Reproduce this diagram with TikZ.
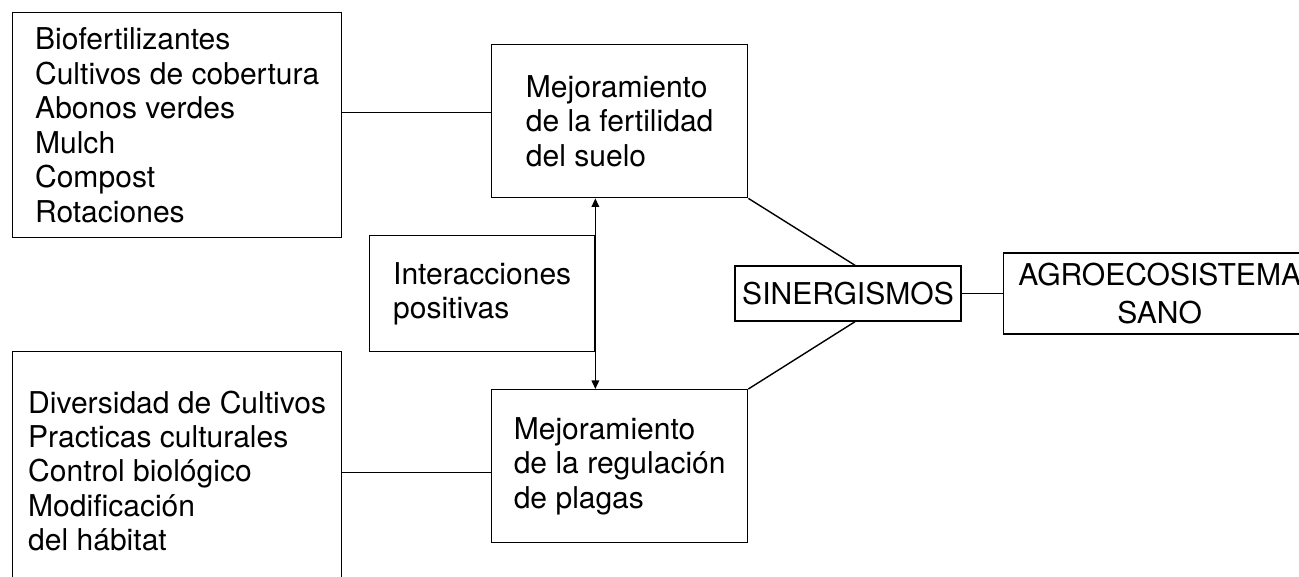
\documentclass[tikz,border=0pt]{standalone}
\usepackage{fontspec}
\setmainfont{TeX Gyre Heros}
\usetikzlibrary{arrows.meta}
\begin{document}
\begin{tikzpicture}[
        x=0.02cm, y=-0.02cm,
        every node/.style={font=\fontsize{17.1}{19.6}\selectfont, inner sep=0pt},
        box/.style={draw, thick, align=left},
        listbox/.style={box, anchor=north west, minimum width=6.58cm},
        link/.style={thick},
        tip/.style={arrows={Triangle[length=0.17cm,width=0.15cm]-Triangle[length=0.17cm,width=0.15cm]}}
    ]
        \useasboundingbox (0,0) rectangle (1299,577);
        \clip (0,0) rectangle (1299,577);

        % Practices on the left
        \node[listbox, minimum height=4.5cm] (suelo) at (12,12)
            {Biofertilizantes\\Cultivos de cobertura\\Abonos verdes\\Mulch\\Compost\\Rotaciones};
        \node[listbox, minimum height=4.77cm] (habitat) at (12,351)
            {Diversidad de Cultivos\\Practicas culturales\\Control biológico\\Modificación\\del hábitat};

        % Central boxes
        \node[box, anchor=north west, minimum width=5.12cm, minimum height=3.06cm] (fertilidad) at (491,44)
            {Mejoramiento\\de la fertilidad\\del suelo};
        \node[box, anchor=north west, minimum width=5.12cm, minimum height=3.06cm] (regulacion) at (491,389)
            {Mejoramiento\\de la regulación\\de plagas};
        \node[box, anchor=north west, minimum width=4.5cm, minimum height=2.32cm] (interacciones) at (369,235)
            {Interacciones\\positivas};

        % Result
        \node[box, align=center, minimum width=4.52cm, minimum height=1.1cm] (sinergismos) at (848,293.5) {SINERGISMOS};
        \node[box, align=center, anchor=west, minimum width=6.24cm, minimum height=1.62cm] (sano) at (1003,293.5)
            {AGROECOSISTEMA\\[2.2pt]SANO};

        % Connectors
        \draw[link] ([yshift=0.17cm]fertilidad.west) -- ([yshift=0.17cm]fertilidad.west -| suelo.east);
        \draw[link] ([yshift=-0.13cm]regulacion.west) -- ([yshift=-0.13cm]regulacion.west -| habitat.east);
        \draw[link, tip] (fertilidad.south -| interacciones.east) -- (regulacion.north -| interacciones.east);
        \draw[link] (fertilidad.south east) -- ([xshift=0.14cm]sinergismos.north);
        \draw[link] (regulacion.north east) -- ([xshift=0.14cm]sinergismos.south);
        \draw[link] (sinergismos.east) -- (sano.west);
    \end{tikzpicture}
\end{document}
